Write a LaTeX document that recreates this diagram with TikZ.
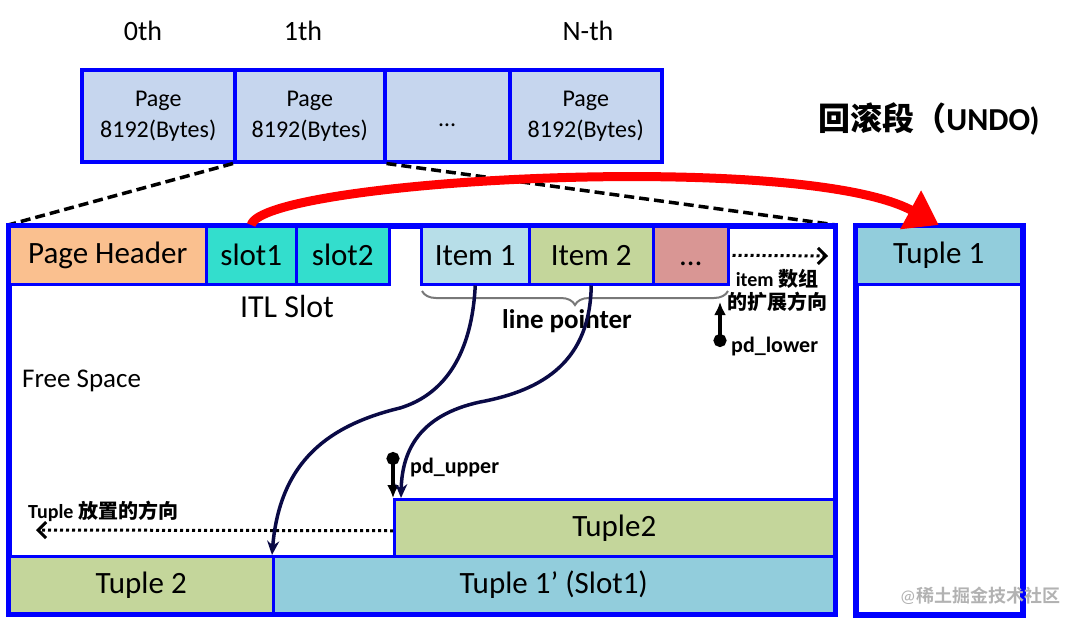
\documentclass[tikz,border=0pt]{standalone}
\usepackage{fontspec}
\setmainfont{Carlito}
\newfontfamily\cjk{Noto Sans CJK SC Bold}
\usetikzlibrary{arrows.meta,decorations.pathreplacing}
\definecolor{pblue}{RGB}{0,0,255}
\definecolor{pagefill}{RGB}{198,214,238}
\definecolor{phfill}{RGB}{250,192,143}
\definecolor{slotfill}{RGB}{51,222,205}
\definecolor{itemfill}{RGB}{183,222,232}
\definecolor{greenfill}{RGB}{196,214,155}
\definecolor{redfill}{RGB}{217,150,148}
\definecolor{tonefill}{RGB}{146,205,220}
\definecolor{navy}{RGB}{10,10,70}
\definecolor{bracegray}{RGB}{120,120,120}
\begin{document}
\begin{tikzpicture}[x=1pt,y=-1pt,
  cell/.style={draw=pblue, line width=2.5pt, inner sep=0pt, anchor=north west, minimum height=58pt, font=\fontsize{31}{31}\selectfont},
  pagebase/.style={draw=pblue, line width=3.5pt, fill=pagefill, inner sep=0pt, anchor=north west, minimum height=92pt, font=\fontsize{24}{31}\selectfont},
  pagecell/.style={pagebase, align=center},
  toplbl/.style={inner sep=0pt, font=\fontsize{28}{28}\selectfont},
  blbl/.style={inner sep=0pt, font=\fontsize{20}{23}\selectfont\bfseries},
  ptrcurve/.style={draw=navy, line width=3.5pt, -{Stealth[length=14pt,width=12pt]}},
  dotarrow/.style={line width=3pt, dash pattern=on 3pt off 3pt, -{Straight Barb[length=8pt,width=16pt,line width=3pt]}},
  marker/.style={line width=4pt, {Circle[length=13pt]}-{Latex[length=13pt,width=12pt]}},
  dashline/.style={line width=3.5pt, dash pattern=on 10pt off 5pt}
]
\useasboundingbox (0,0) rectangle (1080,625);

% top labels
\node[toplbl] (l0) at (143,31) {0th};
\node[toplbl] (l1) at (303,31) {1th};
\node[toplbl] (lN) at (588,31) {N-th};

% pages
\node[pagecell, minimum width=153pt] (p0) at (80,68) {Page\\8192(Bytes)};
\node[pagecell, minimum width=150pt] (p1) at (233,68) {Page\\8192(Bytes)};
\node[pagebase, minimum width=125pt] (pd) at (383,68) {\raisebox{-7pt}{…}\vphantom{I}};
\node[pagecell, minimum width=152pt] (pN) at (508,68) {Page\\8192(Bytes)};

\node[inner sep=0pt, font=\fontsize{32}{32}\selectfont\bfseries] (undolbl) at (929,119) {{\cjk 回滚段（}UNDO)};

% main page box
\node[draw=pblue, line width=3.5pt, inner sep=0pt, anchor=north west, minimum width=825pt, minimum height=387pt] (page) at (8,225) {};

% zoom dashed lines
\draw[dashline] (p1.south west) -- (page.north west);
\draw[dashline] (p1.south east) -- (page.north east);

% header row
\node[cell, fill=phfill, minimum width=197pt] (ph) at (8,225) {Page Header};
\node[cell, fill=slotfill, minimum width=90pt] (s1) at (205,225) {slot1};
\node[cell, fill=slotfill, minimum width=93pt] (s2) at (295,225) {slot2};
\node[cell, fill=itemfill, minimum width=108pt] (i1) at (420,225) {Item 1};
\node[cell, fill=greenfill, minimum width=124pt] (i2) at (528,225) {Item 2};
\node[cell, fill=redfill, minimum width=75pt] (i3) at (652,225) {\vphantom{I}…};

\node[inner sep=0pt, font=\fontsize{32}{32}\selectfont] (itl) at (287,307) {ITL Slot};
\node[inner sep=0pt, anchor=west, font=\fontsize{27}{27}\selectfont] (free) at (22,381) {Free Space};

% brace and line pointer
\draw[draw=bracegray, line width=2pt, decorate, decoration={brace, mirror, amplitude=14pt}] (422,291) -- (728,291);
\node[inner sep=0pt, font=\fontsize{27}{27}\selectfont\bfseries] (lp) at (567,321) {line pointer};

% item expansion
\coordinate (rightend) at (828,256);
\draw[dotarrow] ([xshift=3pt]i3.east) -- (rightend);
\node[blbl, align=center] (itemdir) at (777,290) {item {\cjk 数组}\\{\cjk 的扩展方向}};

% pd_lower
\coordinate (pldot) at (720,347);
\coordinate (pltip) at (720,302);
\draw[marker] (pldot) -- (pltip);
\node[blbl, anchor=west, font=\fontsize{22}{22}\selectfont\bfseries] (pdl) at (731,347) {pd\_lower};

% tuples
\node[cell, fill=greenfill, minimum width=440pt, minimum height=57pt] (tu2) at (393,498) {Tuple2};
\node[cell, fill=greenfill, minimum width=264pt, minimum height=57pt] (bt2) at (8,555) {Tuple 2};
\node[cell, fill=tonefill, minimum width=561pt, minimum height=57pt] (bt1) at (272,555) {Tuple 1’ (Slot1)};
\draw[draw=pblue, line width=3.5pt] (page.north west) rectangle (page.south east);

% pd_upper
\coordinate (pudot) at (393,452);
\draw[marker] (pudot) -- (tu2.north west);
\node[blbl, anchor=west, font=\fontsize{22}{22}\selectfont\bfseries] (pdu) at (410,468) {pd\_upper};

% tuple direction
\coordinate (leftend) at (36,530);
\draw[dotarrow] ([yshift=-3pt]tu2.west) -- (leftend);
\node[blbl, anchor=west] (tupdir) at (28,511) {Tuple {\cjk 放置的方向}};

% line pointers
\draw[ptrcurve] (i1.south) .. controls (472,352) and (446,394) .. (400,408) .. controls (330,425) and (280,460) .. (bt1.north west);
\draw[ptrcurve] (i2.south) .. controls (590,360) and (545,390) .. (480,402) .. controls (420,415) and (402,450) .. ([xshift=8pt]tu2.north west);

% undo segment
\node[draw=pblue, line width=3.5pt, inner sep=0pt, anchor=north west, minimum width=165pt, minimum height=387pt] (undo) at (855,225) {};
\node[cell, fill=tonefill, minimum width=165pt] (tu1) at (855,225) {Tuple 1};
\draw[draw=pblue, line width=4pt] (undo.north west) rectangle (undo.south east);

% red arrow
\draw[draw=red, line width=9pt, -{Triangle[length=32pt,width=42pt]}] (s1.north) .. controls (262,180) and (800,150) .. (tu1.north);

% watermark
\node[inner sep=0pt, text=black!30, font=\fontsize{18}{18}\selectfont] (wm) at (980,596) {@{\cjk 稀土掘金技术社区}};
\end{tikzpicture}
\end{document}
